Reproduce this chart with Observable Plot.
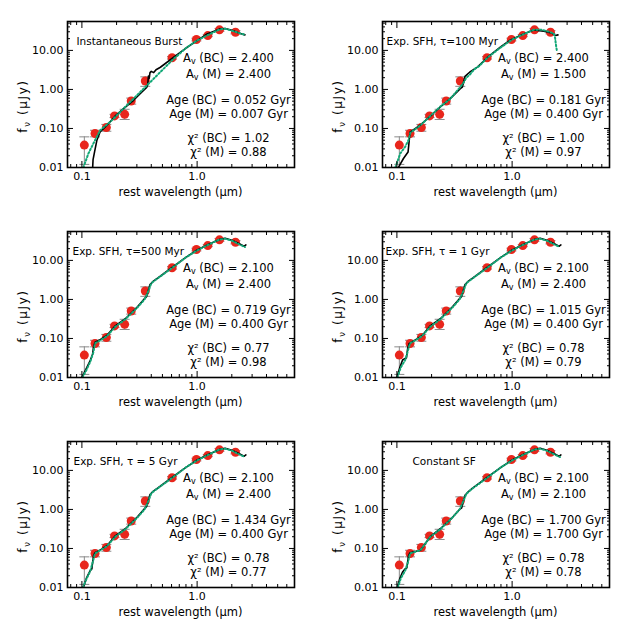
<!DOCTYPE html>
<html><head><meta charset="utf-8">
<script src="https://cdn.jsdelivr.net/npm/d3@7"></script>
<script src="https://cdn.jsdelivr.net/npm/@observablehq/plot@0.6"></script>
<style>
body{margin:0;background:#fff;}
#grid{display:grid;grid-template-columns:315px 315px;grid-template-rows:210px 210px 210px;width:630px;height:630px;}
#grid svg{display:block;}
</style></head><body><div id="grid"></div>
<script>
// observed photometry (rest wavelength in micron, flux in microJy)
const wave  = [0.105, 0.130, 0.163, 0.192, 0.235, 0.268, 0.355, 0.606, 0.986, 1.237, 1.563, 2.153];
const flux  = [0.0375, 0.0745, 0.106, 0.21, 0.23, 0.506, 1.64, 6.48, 19.0, 24.0, 33.6, 29.1];
const errLo = [0.012, 0.061, 0.085, 0.19, 0.17, 0.42, 1.2, 6.0, 17.5, 22.5, 31.0, 26.5];
const errHi = [0.061, 0.090, 0.127, 0.23, 0.31, 0.60, 2.1, 7.0, 20.5, 25.5, 36.5, 32.0];

const titles = ["Instantaneous Burst", "Exp. SFH, \u03c4=100 Myr", "Exp. SFH, \u03c4=500 Myr",
                "Exp. SFH, \u03c4 = 1 Gyr", "Exp. SFH, \u03c4 = 5 Gyr", "Constant SF"];
const avBC  = ["2.400", "2.400", "2.100", "2.100", "2.100", "2.100"];
const avM   = ["2.400", "1.500", "2.400", "2.400", "2.400", "2.100"];
const ageBC = ["0.052", "0.181", "0.719", "1.015", "1.434", "1.700"];
const ageM  = ["0.007", "0.400", "0.400", "0.400", "0.400", "1.700"];
const chiBC = ["1.02", "1.00", "0.77", "0.78", "0.78", "0.78"];
const chiM  = ["0.88", "0.97", "0.98", "0.79", "0.77", "0.78"];

const xMajor = [0.1, 1];
const xMinor = [0.08, 0.09, 0.2, 0.3, 0.4, 0.5, 0.6, 0.7, 0.8, 0.9, 2, 3, 4, 5, 6, 7];
const yMajor = [0.01, 0.1, 1, 10];
const yMinor = [0.02, 0.03, 0.04, 0.05, 0.06, 0.07, 0.08, 0.09, 0.2, 0.3, 0.4, 0.5, 0.6, 0.7, 0.8, 0.9,
                2, 3, 4, 5, 6, 7, 8, 9, 20, 30, 40, 50];

// best-fit model SEDs: [wavelength, flux]
const bc1 = [[0.1240,0.010],[0.1250,0.016],[0.1288,0.025],[0.135,0.050],[0.144,0.082],[0.165,0.121],[0.194,0.206],[0.230,0.324],[0.281,0.527],[0.332,0.86],[0.365,1.12],[0.372,1.3],[0.378,2.2],[0.383,1.9],[0.39,2.7],[0.40,2.9],[0.42,2.7],[0.44,3.2],[0.48,3.7],[0.627,6.7],[0.818,12.0],[1.0,17.8],[1.22,26.5],[1.57,35.5],[1.75,36.5],[2.0,33],[2.38,27],[2.6,25]];
const m1  = [[0.103,0.010],[0.114,0.023],[0.130,0.050],[0.144,0.090],[0.176,0.147],[0.215,0.265],[0.263,0.48],[0.321,0.86],[0.393,1.55],[0.479,2.78],[0.604,5.5],[0.80,11.5],[1.0,18],[1.25,25],[1.55,34],[1.75,36],[2.0,32],[2.3,28],[2.6,25]];
const bc2 = [[0.103,0.010],[0.114,0.017],[0.125,0.025],[0.128,0.050],[0.130,0.080],[0.159,0.121],[0.195,0.206],[0.238,0.355],[0.29,0.58],[0.355,1.05],[0.37,1.15],[0.39,2.15],[0.43,2.8],[0.50,3.73],[0.606,6.5],[0.80,12.5],[0.97,18.6],[1.26,26.5],[1.54,33.5],[1.88,31],[2.2,28],[2.38,24],[2.5,25]];
const m2  = [[0.097,0.010],[0.107,0.023],[0.118,0.034],[0.126,0.050],[0.131,0.078],[0.16,0.12],[0.195,0.21],[0.24,0.37],[0.29,0.57],[0.35,1.1],[0.38,1.5],[0.40,2.0],[0.43,2.4],[0.47,3.3],[0.52,4.0],[0.606,6.4],[0.80,12],[1.0,19],[1.26,26],[1.55,34],[1.8,34],[2.1,30],[2.3,27],[2.36,21],[2.4,14],[2.45,9.5]];
const bc3 = [[0.100,0.010],[0.108,0.016],[0.118,0.027],[0.124,0.040],[0.126,0.060],[0.130,0.080],[0.145,0.095],[0.165,0.12],[0.195,0.21],[0.238,0.32],[0.30,0.62],[0.35,1.05],[0.365,1.2],[0.375,1.6],[0.39,2.4],[0.42,3.0],[0.46,3.6],[0.606,6.6],[0.80,12],[1.0,18.5],[1.26,26],[1.55,34],[1.75,37],[2.0,33],[2.3,27],[2.55,23],[2.65,25]];
const m3  = [[0.101,0.010],[0.110,0.016],[0.118,0.025],[0.126,0.045],[0.130,0.075],[0.145,0.090],[0.165,0.115],[0.195,0.20],[0.238,0.31],[0.30,0.60],[0.35,1.0],[0.38,1.7],[0.40,2.6],[0.45,3.4],[0.606,6.4],[0.80,12],[1.0,18],[1.26,25.5],[1.55,34],[1.75,36],[2.0,32],[2.3,26],[2.6,22]];
const bc4 = [[0.100,0.010],[0.106,0.018],[0.112,0.028],[0.121,0.032],[0.124,0.055],[0.128,0.075],[0.145,0.092],[0.165,0.118],[0.195,0.21],[0.238,0.32],[0.30,0.62],[0.35,1.05],[0.365,1.2],[0.375,1.6],[0.39,2.4],[0.42,3.0],[0.46,3.6],[0.606,6.6],[0.80,12],[1.0,18.5],[1.26,26],[1.55,34],[1.75,37],[2.0,33],[2.3,27],[2.55,23],[2.65,25]];
const m4  = [[0.101,0.010],[0.108,0.018],[0.118,0.028],[0.125,0.050],[0.130,0.075],[0.145,0.090],[0.165,0.115],[0.195,0.20],[0.238,0.31],[0.30,0.60],[0.35,1.0],[0.38,1.7],[0.40,2.6],[0.45,3.4],[0.606,6.4],[0.80,12],[1.0,18],[1.26,25.5],[1.55,34],[1.75,36],[2.0,32],[2.3,26],[2.6,22]];
const bc5 = [[0.103,0.010],[0.110,0.018],[0.118,0.027],[0.122,0.030],[0.126,0.065],[0.130,0.078],[0.145,0.092],[0.165,0.118],[0.195,0.21],[0.238,0.32],[0.30,0.62],[0.35,1.05],[0.365,1.2],[0.375,1.6],[0.39,2.4],[0.42,3.0],[0.46,3.6],[0.606,6.6],[0.80,12],[1.0,18.5],[1.26,26],[1.55,34],[1.75,37],[2.0,33],[2.3,27],[2.55,23],[2.65,25]];
const m5  = [[0.102,0.010],[0.110,0.017],[0.118,0.026],[0.125,0.048],[0.130,0.075],[0.145,0.090],[0.165,0.115],[0.195,0.20],[0.238,0.31],[0.30,0.60],[0.35,1.0],[0.38,1.7],[0.40,2.6],[0.45,3.4],[0.606,6.4],[0.80,12],[1.0,18],[1.26,25.5],[1.55,34],[1.75,36],[2.0,32],[2.3,26],[2.6,22]];
const bc6 = [[0.101,0.010],[0.106,0.017],[0.112,0.025],[0.118,0.030],[0.122,0.032],[0.126,0.065],[0.130,0.078],[0.16,0.09],[0.195,0.20],[0.238,0.32],[0.30,0.60],[0.35,1.0],[0.365,1.1],[0.375,1.5],[0.39,2.3],[0.42,2.9],[0.46,3.6],[0.606,6.6],[0.80,12],[1.0,18.5],[1.26,26],[1.55,34],[1.75,37],[2.0,33],[2.3,27],[2.55,23],[2.65,25]];
const m6  = [[0.102,0.010],[0.108,0.017],[0.118,0.027],[0.125,0.045],[0.130,0.075],[0.16,0.09],[0.195,0.20],[0.238,0.31],[0.30,0.60],[0.35,1.0],[0.38,1.7],[0.40,2.5],[0.45,3.4],[0.606,6.4],[0.80,12],[1.0,18],[1.26,25.5],[1.55,34],[1.75,36],[2.0,32],[2.3,26],[2.6,22]];
const bcModels = [bc1, bc2, bc3, bc4, bc5, bc6];
const mModels  = [m1, m2, m3, m4, m5, m6];

const titleDx = [9, 4, 5, 3, 6, 30];
const W = 315, H = 210, ML = 67, MR = 21, MT = 21, MB = 43;
const FONT = "'DejaVu Sans', sans-serif";

const pts = wave.map((w, i) => ({w, f: flux[i], lo: errLo[i], hi: errHi[i]}));
const capSymbol = {draw(ctx, size) { const r = Math.sqrt(size / Math.PI); ctx.moveTo(-r, 0); ctx.lineTo(r, 0); }};
const none = () => "";

const grid = document.getElementById("grid");
for (let i = 0; i < 6; i++) {
  const annot = [
    [`A_V (BC) = ${avBC[i]}`, 40],
    [`A_V (M) = ${avM[i]}`, 56],
    [`Age (BC) = ${ageBC[i]} Gyr`, 82],
    [`Age (M) = ${ageM[i]} Gyr`, 96],
    [`\u03c7\u00b2 (BC) = ${chiBC[i]}`, 120],
    [`\u03c7\u00b2 (M) = ${chiM[i]}`, 134]
  ];
  const svg = Plot.plot({
    width: W, height: H, marginLeft: ML, marginRight: MR, marginTop: MT, marginBottom: MB,
    x: {type: "log", domain: [0.075, 7], label: null},
    y: {type: "log", domain: [0.01, 55], label: null},
    style: {fontFamily: FONT, fontSize: "11px", background: "white", color: "black"},
    marks: [
      Plot.ruleX(pts, {x: "w", y1: "lo", y2: "hi", stroke: "#8a8a8a", strokeWidth: 1}),
      Plot.dot(pts, {x: "w", y: "lo", symbol: capSymbol, r: 5, stroke: "#8a8a8a", fill: "none", strokeWidth: 1}),
      Plot.dot(pts, {x: "w", y: "hi", symbol: capSymbol, r: 5, stroke: "#8a8a8a", fill: "none", strokeWidth: 1}),
      Plot.dot(pts, {x: "w", y: "f", r: 4.5, fill: "#e8261c", stroke: "none"}),
      Plot.line(bcModels[i], {stroke: "black", strokeWidth: 1.6, clip: true}),
      Plot.line(mModels[i], {stroke: "#12a877", strokeWidth: 2, strokeDasharray: "1.5,2.2", clip: true}),
      Plot.axisX(xMajor, {anchor: "bottom", tickSize: -6, tickPadding: 11, tickFormat: d3.format(".1f")}),
      Plot.axisX(xMinor, {anchor: "bottom", tickSize: -3, tickFormat: none}),
      Plot.axisX(xMajor, {anchor: "top", tickSize: -6, tickFormat: none}),
      Plot.axisX(xMinor, {anchor: "top", tickSize: -3, tickFormat: none}),
      Plot.axisY(yMajor, {anchor: "left", tickSize: -6, tickPadding: 10, tickFormat: d3.format(".2f")}),
      Plot.axisY(yMinor, {anchor: "left", tickSize: -3, tickFormat: none}),
      Plot.axisY(yMajor, {anchor: "right", tickSize: -6, tickFormat: none}),
      Plot.axisY(yMinor, {anchor: "right", tickSize: -3, tickFormat: none}),
      Plot.frame({stroke: "black", strokeWidth: 1.6}),
      Plot.text([titles[i]], {text: d => d, frameAnchor: "top-left", dx: titleDx[i], dy: 20,
        textAnchor: "start", lineAnchor: "middle", fontSize: 10.5}),
      ...annot.map(([t, dy]) => Plot.text([t], {text: d => d, frameAnchor: "top-left", dx: 161, dy,
        textAnchor: "middle", lineAnchor: "bottom", fontSize: 11.5}))
    ]
  });
  // subscripts for A_V
  d3.select(svg).selectAll("text").each(function() {
    const t = this.textContent;
    if (t.startsWith("A_V")) {
      const s = d3.select(this);
      s.text("A");
      s.append("tspan").attr("font-size", "8px").attr("dy", "2.5").text("v");
      s.append("tspan").attr("dy", "-2.5").text(t.slice(3));
    }
  });
  const s = d3.select(svg);
  const fw = W - ML - MR, fh = H - MT - MB;
  s.append("text").attr("x", ML + fw / 2).attr("y", H - 14).attr("text-anchor", "middle")
    .attr("font-size", "11.5px").attr("font-family", FONT).text("rest wavelength (\u03bcm)");
  const yl = s.append("text").attr("transform", `translate(27,${MT + fh / 2 + 12}) rotate(-90)`)
    .attr("text-anchor", "middle").attr("font-size", "12px").attr("letter-spacing", "1.6px")
    .attr("font-family", FONT);
  yl.append("tspan").text("f");
  yl.append("tspan").attr("font-size", "8.5px").attr("dy", "2.5").text("\u03bd");
  yl.append("tspan").attr("dy", "-2.5").text(" (\u03bcJy)");
  grid.appendChild(svg);
}
</script>
</body></html>
